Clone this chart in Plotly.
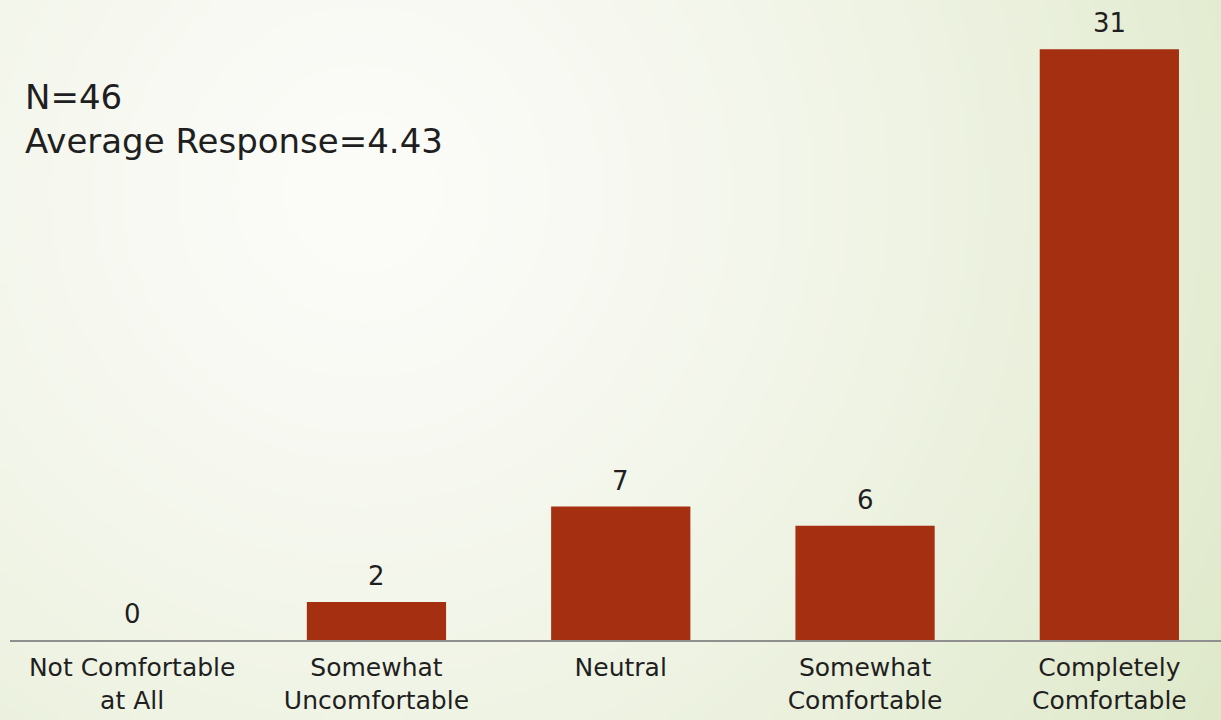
import base64, struct, zlib
import numpy as np
import plotly.graph_objects as go

categories = ["Not Comfortable<br>at All", "Somewhat<br>Uncomfortable", "Neutral",
              "Somewhat<br>Comfortable", "Completely<br>Comfortable"]
values = [0, 2, 7, 6, 31]
note_lines = ["N=46", "Average Response=4.43"]

W, H = 1221, 720
BAR_COLOR = "#a52f11"
TEXT_COLOR = "#1f1f1f"
FONT = "DejaVu Sans"


def make_bg_png(w=244, h=144):
    yy, xx = np.mgrid[0:h, 0:w]
    cx, cy = 360 / W * w, 190 / H * h
    d = np.sqrt(((xx - cx) / w * W) ** 2 + ((yy - cy) / h * H) ** 2)
    t = np.clip(d / 1000.0, 0, 1) ** 1.35
    c0 = np.array([252, 252, 249], float)
    c1 = np.array([223, 233, 202], float)
    img = (c0[None, None, :] * (1 - t[..., None]) + c1[None, None, :] * t[..., None]).astype(np.uint8)
    raw = b"".join(b"\x00" + img[r].tobytes() for r in range(h))

    def chunk(tag, data):
        c = struct.pack(">I", len(data)) + tag + data
        return c + struct.pack(">I", zlib.crc32(tag + data) & 0xffffffff)

    png = b"\x89PNG\r\n\x1a\n" + chunk(b"IHDR", struct.pack(">IIBBBBB", w, h, 8, 2, 0, 0, 0)) \
        + chunk(b"IDAT", zlib.compress(raw, 9)) + chunk(b"IEND", b"")
    return "data:image/png;base64," + base64.b64encode(png).decode()


fig = go.Figure()
fig.add_trace(go.Bar(
    x=list(range(len(categories))), y=values, width=0.57,
    marker=dict(color=BAR_COLOR, line=dict(width=0)),
    hoverinfo="skip",
))

for i, v in enumerate(values):
    fig.add_annotation(x=i, y=v, text=str(v), showarrow=False, yanchor="bottom",
                       yshift=9, font=dict(family=FONT, size=26, color=TEXT_COLOR))

fig.add_annotation(xref="paper", yref="paper", x=0.011, y=1 - 75 / 640, xanchor="left", yanchor="top",
                   align="left", text="<br>".join(note_lines), showarrow=False,
                   font=dict(family=FONT, size=34, color=TEXT_COLOR))

fig.update_layout(
    width=W, height=H,
    margin=dict(l=10, r=0, t=0, b=80, autoexpand=False),
    paper_bgcolor="#f4f6ec", plot_bgcolor="rgba(0,0,0,0)",
    showlegend=False,
    images=[dict(source=make_bg_png(), xref="paper", yref="paper", x=-10 / 1211, y=1,
                 sizex=W / 1211, sizey=H / 640, xanchor="left", yanchor="top",
                 sizing="stretch", layer="below")],
    xaxis=dict(range=[-0.5, 4.457], tickmode="array", tickvals=list(range(len(categories))),
               ticktext=categories, showgrid=False, zeroline=False, showline=True,
               automargin=False,
               linecolor="#8f8f8f", linewidth=2, ticks="outside", ticklen=4,
               tickcolor="rgba(0,0,0,0)",
               tickfont=dict(family=FONT, size=25, color=TEXT_COLOR)),
    yaxis=dict(range=[0, 33.58], visible=False, showgrid=False, zeroline=False, automargin=False),
)

fig.write_html("out.html", config={"displayModeBar": False},
               post_script="document.body.style.margin='0';")
